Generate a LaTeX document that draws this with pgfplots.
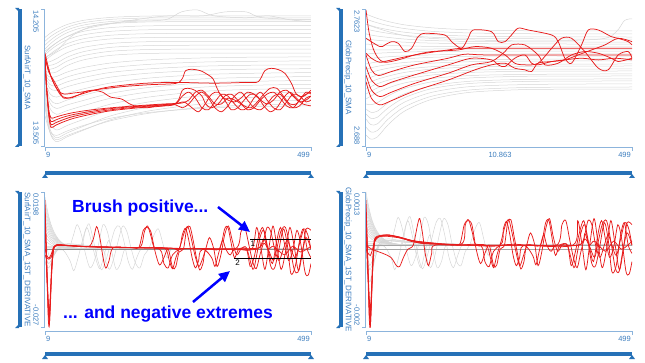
\documentclass[border=0pt]{standalone}
\usepackage{fontspec}
\setmainfont{Liberation Sans}
\usepackage{pgfplots}
\pgfplotsset{compat=1.18}
\usetikzlibrary{arrows.meta}
\definecolor{barblue}{RGB}{38,113,183}
\definecolor{lblue}{RGB}{60,125,190}
\definecolor{axblue}{RGB}{140,180,220}
\definecolor{myred}{RGB}{232,28,28}
\newcommand\lbl{\fontsize{7.5}{9}\selectfont}
\newcommand\ttl{\fontsize{8}{9}\selectfont}
\tikzset{gl/.style={color=black!16, line width=0.5pt, smooth},
         rl/.style={color=myred, line width=0.75pt, smooth}}
\pgfplotsset{panel/.style={scale only axis, width=266pt, hide axis, xmin=9, xmax=499, anchor=south west}}
% #1 x0, #2 y0, #3 y1, #4 top label, #5 bottom label, #6 title, #7 x-axis line y, #8 x label y, #9 bar y
\newcommand\panelframe[9]{%
 \fill[barblue] ({#1-27},#2) rectangle ({#1-23},#3);
 \fill[barblue] ({#1-30},{#2-1}) -- ({#1-26},{#2-1}) -- ({#1-26},{#2+3}) -- cycle;
 \fill[barblue] ({#1-30},{#3+1}) -- ({#1-26},{#3+1}) -- ({#1-26},{#3-3}) -- cycle;
 \draw[axblue, line width=0.6pt] ({#1-4},#2) -- ({#1-1},#2) -- ({#1-1},#3) -- ({#1-4},#3);
 \node[lblue, rotate=-90, anchor=west, inner sep=0pt, font=\lbl] at ({#1-9},{#2+1}) {#4};
 \node[lblue, rotate=-90, anchor=east, inner sep=0pt, font=\lbl] at ({#1-9},{#3-1}) {#5};
 \node[lblue, rotate=-90, inner sep=0pt, font=\ttl] at ({#1-18},{(#2+#3)/2}) {#6};
 \draw[axblue, line width=0.6pt] (#1,{#7+4}) -- (#1,#7) -- ({#1+266},#7) -- ({#1+266},{#7+4});
 \node[lblue, anchor=west, inner sep=0pt, font=\lbl] at ({#1+1},#8) {9};
 \node[lblue, anchor=east, inner sep=0pt, font=\lbl] at ({#1+265},#8) {499};
 \fill[barblue] (#1,#9) rectangle ({#1+266},{#9+4});
 \fill[barblue] ({#1-3},{#9+7}) -- ({#1+3},{#9+7}) -- (#1,{#9+3}) -- cycle;
 \fill[barblue] ({#1+263},{#9+7}) -- ({#1+269},{#9+7}) -- ({#1+266},{#9+3}) -- cycle;
}
\begin{document}
\begin{tikzpicture}
\begin{scope}[x=1pt,y=-1pt]
\path (0,0) rectangle (645,363);
\panelframe{45}{9}{146}{14.205}{13.505}{SurfAirT\_10\_SMA}{147.5}{155}{171}
\panelframe{366}{9}{146}{2.7623}{2.688}{GlobPrecip\_10\_SMA}{147.5}{155}{171}
\panelframe{45}{192}{327}{0.0198}{-0.027}{SurfAirT\_10\_SMA\_1ST\_DERIVATIVE}{331}{339}{352}
\panelframe{366}{192}{327}{0.0013}{-0.002}{GlobPrecip\_10\_SMA\_1ST\_DERIVATIVE}{331}{339}{352}
\node[lblue, inner sep=0pt, font=\lbl] at (500,155) {10.863};
\end{scope}

%================ Panel 1: SurfAirT_10_SMA
\begin{axis}[panel, height=137pt, at={(45pt,-146pt)}, ymin=13.505, ymax=14.205]
\addplot[gl] coordinates {(9,14.06)(18,14.080)(30,14.101)(50,14.126)(80,14.147)(130,14.162)(200,14.169)(300,14.17)(400,14.17)(499,14.17)};
\addplot[gl] coordinates {(9,14.04)(18,14.062)(30,14.084)(50,14.112)(80,14.135)(130,14.152)(200,14.159)(300,14.16)(400,14.16)(499,14.16)};
\addplot[gl] coordinates {(9,14.02)(18,14.043)(30,14.068)(50,14.098)(80,14.123)(130,14.141)(200,14.149)(300,14.15)(400,14.15)(499,14.15)};
\addplot[gl] coordinates {(9,14.00)(18,14.025)(30,14.052)(50,14.084)(80,14.111)(130,14.130)(200,14.139)(300,14.14)(400,14.14)(499,14.14)};
\addplot[gl] coordinates {(9,13.98)(18,14.005)(30,14.032)(50,14.064)(80,14.091)(130,14.110)(200,14.119)(300,14.12)(400,14.12)(499,14.12)};
\addplot[gl] coordinates {(9,13.97)(18,13.993)(30,14.018)(50,14.048)(80,14.073)(130,14.091)(200,14.099)(300,14.10)(400,14.10)(499,14.10)};
\addplot[gl] coordinates {(9,13.95)(18,13.973)(30,13.998)(50,14.028)(80,14.053)(130,14.071)(200,14.079)(300,14.08)(400,14.08)(499,14.08)};
\addplot[gl] coordinates {(9,13.94)(18,13.962)(30,13.984)(50,14.012)(80,14.035)(130,14.052)(200,14.059)(300,14.06)(400,14.06)(499,14.06)};
\addplot[gl] coordinates {(9,13.93)(18,13.936)(30,13.951)(50,13.982)(80,14.009)(130,14.029)(200,14.038)(300,14.04)(400,14.04)(499,14.04)};
\addplot[gl] coordinates {(9,13.92)(18,13.917)(30,13.927)(50,13.959)(80,13.987)(130,14.009)(200,14.018)(300,14.02)(400,14.02)(499,14.02)};
\addplot[gl] coordinates {(9,13.90)(18,13.897)(30,13.907)(50,13.939)(80,13.967)(130,13.989)(200,13.998)(300,14.00)(400,14.00)(499,14.00)};
\addplot[gl] coordinates {(9,13.89)(18,13.878)(30,13.883)(50,13.916)(80,13.945)(130,13.968)(200,13.978)(300,13.98)(400,13.98)(499,13.98)};
\addplot[gl] coordinates {(9,13.88)(18,13.857)(30,13.860)(50,13.883)(80,13.906)(130,13.929)(200,13.945)(300,13.955)(400,13.959)(499,13.96)};
\addplot[gl] coordinates {(9,13.87)(18,13.838)(30,13.836)(50,13.858)(80,13.880)(130,13.905)(200,13.922)(300,13.934)(400,13.938)(499,13.94)};
\addplot[gl] coordinates {(9,13.86)(18,13.819)(30,13.812)(50,13.833)(80,13.855)(130,13.881)(200,13.899)(300,13.913)(400,13.918)(499,13.92)};
\addplot[gl] coordinates {(9,13.85)(18,13.799)(30,13.789)(50,13.808)(80,13.830)(130,13.857)(200,13.877)(300,13.892)(400,13.898)(499,13.90)};
\addplot[gl] coordinates {(9,13.84)(18,13.772)(30,13.755)(50,13.774)(80,13.797)(130,13.827)(200,13.852)(300,13.870)(400,13.877)(499,13.88)};
\addplot[gl] coordinates {(9,13.83)(18,13.745)(30,13.721)(50,13.740)(80,13.764)(130,13.798)(200,13.826)(300,13.848)(400,13.856)(499,13.86)};
\addplot[gl] coordinates {(9,13.82)(18,13.726)(30,13.697)(50,13.715)(80,13.738)(130,13.774)(200,13.804)(300,13.827)(400,13.836)(499,13.84)};
\addplot[gl] coordinates {(9,13.80)(18,13.699)(30,13.667)(50,13.686)(80,13.711)(130,13.749)(200,13.781)(300,13.806)(400,13.816)(499,13.82)};
\addplot[gl] coordinates {(9,13.78)(18,13.664)(30,13.627)(50,13.648)(80,13.676)(130,13.719)(200,13.755)(300,13.784)(400,13.795)(499,13.80)};
\addplot[gl] coordinates {(9,13.76)(18,13.629)(30,13.587)(50,13.610)(80,13.641)(130,13.689)(200,13.730)(300,13.762)(400,13.775)(499,13.78)};
\addplot[gl] coordinates {(9,13.74)(18,13.594)(30,13.547)(50,13.572)(80,13.606)(130,13.659)(200,13.704)(300,13.740)(400,13.754)(499,13.76)};
\addplot[gl] coordinates {(9,13.72)(18,13.574)(30,13.527)(50,13.552)(80,13.586)(130,13.639)(200,13.684)(300,13.720)(400,13.734)(499,13.74)};
\addplot[gl] coordinates {(9,13.70)(18,13.577)(30,13.537)(50,13.559)(80,13.589)(130,13.634)(200,13.672)(300,13.703)(400,13.715)(499,13.72)};
\addplot[gl] coordinates {(9,13.66)(18,13.579)(30,13.559)(50,13.582)(80,13.610)(130,13.647)(200,13.676)(300,13.698)(400,13.706)(499,13.71)};
\addplot[gl] coordinates {(9,13.96)(30,13.99)(60,14.07)(100,14.12)(160,14.14)(230,14.15)(260,14.19)(290,14.20)(320,14.17)(380,14.16)(420,14.17)(460,14.15)(499,14.14)};
\addplot[gl] coordinates {(9,13.99)(40,14.05)(80,14.10)(130,14.13)(200,14.16)(240,14.17)(300,14.17)(340,14.19)(380,14.19)(410,14.16)(499,14.15)};
% red
\addplot[rl] coordinates {(9,13.96)(12,13.80)(16,13.66)(20,13.60)(28,13.61)(40,13.625)(60,13.645)(90,13.665)(130,13.685)(180,13.70)(230,13.712)(250,13.72)(262,13.76)(274,13.78)(286,13.75)(298,13.70)(310,13.69)(322,13.73)(334,13.77)(346,13.76)(358,13.72)(370,13.69)(382,13.70)(394,13.75)(406,13.78)(418,13.74)(430,13.70)(442,13.69)(454,13.73)(466,13.77)(478,13.76)(490,13.73)(499,13.74)};
\addplot[rl] coordinates {(9,13.95)(12,13.80)(16,13.67)(20,13.615)(28,13.623)(40,13.637)(60,13.655)(90,13.673)(130,13.69)(180,13.704)(230,13.715)(250,13.715)(262,13.70)(274,13.72)(286,13.76)(298,13.78)(310,13.75)(322,13.70)(334,13.68)(346,13.71)(358,13.76)(370,13.78)(382,13.74)(394,13.70)(406,13.69)(418,13.72)(430,13.76)(442,13.77)(454,13.73)(466,13.70)(478,13.71)(490,13.75)(499,13.76)};
\addplot[rl] coordinates {(9,13.94)(12,13.80)(16,13.68)(20,13.63)(28,13.637)(40,13.65)(60,13.665)(90,13.68)(130,13.696)(180,13.708)(230,13.717)(250,13.72)(265,13.73)(280,13.70)(292,13.68)(304,13.72)(316,13.77)(328,13.78)(340,13.74)(352,13.69)(364,13.70)(376,13.74)(388,13.77)(400,13.76)(412,13.71)(424,13.68)(436,13.70)(448,13.75)(460,13.78)(472,13.75)(484,13.72)(499,13.71)};
\addplot[rl] coordinates {(9,13.93)(12,13.80)(16,13.69)(20,13.648)(28,13.652)(40,13.662)(60,13.675)(90,13.688)(130,13.70)(180,13.711)(230,13.72)(250,13.722)(262,13.725)(274,13.74)(286,13.78)(298,13.79)(310,13.76)(322,13.72)(334,13.72)(346,13.75)(358,13.74)(370,13.72)(382,13.69)(394,13.70)(406,13.74)(418,13.77)(430,13.78)(442,13.75)(454,13.71)(466,13.70)(478,13.74)(490,13.78)(499,13.77)};
\addplot[rl] coordinates {(9,13.97)(15,13.89)(25,13.84)(35,13.79)(43,13.75)(55,13.752)(70,13.765)(100,13.79)(130,13.808)(190,13.825)(250,13.83)(320,13.826)(380,13.83)(402,13.834)(414,13.89)(426,13.902)(439,13.895)(451,13.876)(463,13.825)(472,13.77)(484,13.757)(499,13.79)};
\addplot[rl] coordinates {(9,13.95)(20,13.86)(30,13.80)(40,13.76)(55,13.75)(70,13.765)(85,13.785)(100,13.79)(115,13.78)(130,13.755)(150,13.745)(165,13.72)(180,13.705)(195,13.70)(210,13.705)(230,13.71)(245,13.715)(255,13.74)(262,13.79)(272,13.80)(285,13.79)(298,13.76)(305,13.72)(315,13.70)(328,13.72)(340,13.76)(352,13.77)(364,13.74)(376,13.71)(388,13.70)(400,13.73)(412,13.77)(424,13.80)(436,13.80)(448,13.76)(460,13.72)(472,13.72)(484,13.76)(499,13.78)};
\addplot[rl] coordinates {(9,13.98)(14,13.92)(20,13.86)(28,13.81)(36,13.78)(46,13.77)(60,13.775)(80,13.782)(110,13.795)(150,13.808)(200,13.818)(250,13.825)(262,13.85)(268,13.89)(280,13.897)(295,13.89)(305,13.876)(318,13.85)(326,13.80)(334,13.76)(346,13.74)(358,13.73)(370,13.75)(382,13.78)(394,13.77)(406,13.74)(418,13.72)(430,13.74)(442,13.78)(454,13.79)(466,13.76)(478,13.73)(490,13.74)(499,13.76)};
\end{axis}

%================ Panel 2: GlobPrecip_10_SMA
\begin{axis}[panel, height=137pt, at={(366pt,-146pt)}, ymin=2.688, ymax=2.7623]
\addplot[gl] coordinates {(9,2.7596)(18,2.7585)(30,2.7572)(50,2.7555)(80,2.7537)(130,2.7521)(200,2.7510)(300,2.7505)(400,2.7504)(499,2.7504)};
\addplot[gl] coordinates {(9,2.7569)(18,2.7559)(30,2.7548)(50,2.7533)(80,2.7517)(130,2.7502)(200,2.7493)(300,2.7489)(400,2.7488)(499,2.7488)};
\addplot[gl] coordinates {(9,2.7542)(18,2.7533)(30,2.7523)(50,2.7511)(80,2.7497)(130,2.7484)(200,2.7476)(300,2.7472)(400,2.7472)(499,2.7471)};
\addplot[gl] coordinates {(9,2.7515)(18,2.7508)(30,2.7501)(50,2.7491)(80,2.7480)(130,2.7470)(200,2.7464)(300,2.7462)(400,2.7460)(499,2.7460)};
\addplot[gl] coordinates {(9,2.7488)(18,2.7482)(30,2.7476)(50,2.7469)(80,2.7460)(130,2.7452)(200,2.7447)(300,2.7445)(400,2.7444)(499,2.7444)};
\addplot[gl] coordinates {(9,2.7460)(18,2.7457)(30,2.7453)(50,2.7449)(80,2.7443)(130,2.7438)(200,2.7435)(300,2.7434)(400,2.7433)(499,2.7433)};
\addplot[gl] coordinates {(9,2.7433)(18,2.7431)(30,2.7429)(50,2.7426)(80,2.7423)(130,2.7420)(200,2.7418)(300,2.7417)(400,2.7417)(499,2.7417)};
\addplot[gl] coordinates {(9,2.7406)(18,2.7404)(30,2.7401)(50,2.7401)(80,2.7404)(130,2.7406)(200,2.7406)(300,2.7406)(400,2.7406)(499,2.7406)};
\addplot[gl] coordinates {(9,2.7379)(18,2.7381)(30,2.7383)(50,2.7386)(80,2.7389)(130,2.7393)(200,2.7394)(300,2.7395)(400,2.7395)(499,2.7395)};
\addplot[gl] coordinates {(9,2.7352)(18,2.7355)(30,2.7359)(50,2.7364)(80,2.7369)(130,2.7374)(200,2.7377)(300,2.7379)(400,2.7379)(499,2.7379)};
\addplot[gl] coordinates {(9,2.7325)(18,2.7330)(30,2.7336)(50,2.7344)(80,2.7352)(130,2.7361)(200,2.7366)(300,2.7368)(400,2.7368)(499,2.7368)};
\addplot[gl] coordinates {(9,2.7298)(18,2.7304)(30,2.7312)(50,2.7322)(80,2.7333)(130,2.7342)(200,2.7348)(300,2.7351)(400,2.7352)(499,2.7352)};
\addplot[gl] coordinates {(9,2.7271)(18,2.7279)(30,2.7289)(50,2.7302)(80,2.7316)(130,2.7329)(200,2.7337)(300,2.7340)(400,2.7341)(499,2.7341)};
\addplot[gl] coordinates {(9,2.7244)(18,2.7253)(30,2.7265)(50,2.7279)(80,2.7296)(130,2.7310)(200,2.7320)(300,2.7324)(400,2.7324)(499,2.7325)};
\addplot[gl] coordinates {(9,2.7217)(18,2.7228)(30,2.7242)(50,2.7259)(80,2.7279)(130,2.7297)(200,2.7308)(300,2.7312)(400,2.7313)(499,2.7314)};
\addplot[gl] coordinates {(9,2.7189)(18,2.7202)(30,2.7218)(50,2.7237)(80,2.7259)(130,2.7278)(200,2.7291)(300,2.7296)(400,2.7297)(499,2.7298)};
\addplot[gl] coordinates {(9,2.7162)(18,2.7177)(30,2.7195)(50,2.7217)(80,2.7242)(130,2.7265)(200,2.7279)(300,2.7285)(400,2.7286)(499,2.7287)};
\addplot[gl] coordinates {(9,2.7135)(18,2.7151)(30,2.7170)(50,2.7195)(80,2.7222)(130,2.7246)(200,2.7262)(300,2.7268)(400,2.7270)(499,2.7271)};
\addplot[gl] coordinates {(9,2.7108)(18,2.7104)(30,2.7115)(50,2.7152)(80,2.7192)(130,2.7228)(200,2.7249)(300,2.7258)(400,2.7259)(499,2.7260)};
\addplot[gl] coordinates {(9,2.7081)(18,2.7063)(30,2.7069)(50,2.7115)(80,2.7163)(130,2.7206)(200,2.7231)(300,2.7241)(400,2.7243)(499,2.7244)};
\addplot[gl] coordinates {(9,2.7054)(18,2.7030)(30,2.7036)(50,2.7087)(80,2.7142)(130,2.7191)(200,2.7219)(300,2.7230)(400,2.7232)(499,2.7233)};
\addplot[gl] coordinates {(9,2.7027)(18,2.6996)(30,2.7000)(50,2.7057)(80,2.7118)(130,2.7171)(200,2.7202)(300,2.7213)(400,2.7216)(499,2.7217)};
\addplot[gl] coordinates {(9,2.6983)(18,2.6956)(30,2.6964)(50,2.7026)(80,2.7092)(130,2.7150)(200,2.7184)(300,2.7197)(400,2.7199)(499,2.7200)};
\addplot[gl] coordinates {(9,2.6940)(18,2.6917)(30,2.6929)(50,2.6996)(80,2.7069)(130,2.7133)(200,2.7171)(300,2.7186)(400,2.7188)(499,2.7189)};
\addplot[gl] coordinates {(9,2.7540)(100,2.7470)(300,2.7450)(440,2.7460)(470,2.7500)(485,2.7560)(499,2.7570)};
% red
\addplot[rl] coordinates {(9,2.7464)(34.6,2.7419)(43.8,2.7428)(56,2.7446)(68.4,2.7437)(80.7,2.7392)(93,2.7410)(105,2.7473)(117.5,2.7491)(154,2.7482)(166.6,2.7446)(185,2.7410)(197,2.7464)(206.6,2.7509)(240,2.7500)(252.6,2.7446)(265,2.7446)(277,2.7482)(289.4,2.7519)(308,2.7509)(351,2.7482)(363,2.7446)(375.4,2.7356)(387.7,2.7329)(406,2.7428)(418.4,2.7509)(437,2.7509)(461,2.7473)(473.6,2.7464)(492,2.7446)(499,2.7428)};
\addplot[rl] coordinates {(9,2.7618)(14.4,2.7500)(22,2.7410)(31.6,2.7356)(43.8,2.7334)(68.4,2.7347)(99,2.7374)(130,2.7392)(179,2.7401)(209.6,2.7419)(240,2.7410)(265,2.7374)(283,2.7329)(301.7,2.7320)(326,2.7329)(351,2.7410)(369,2.7464)(387.7,2.7464)(412,2.7392)(437,2.7302)(455,2.7293)(473.6,2.7374)(492,2.7392)(499,2.7356)};
\addplot[rl] coordinates {(9,2.7383)(19,2.7356)(34.6,2.7334)(56,2.7347)(99,2.7374)(160.5,2.7401)(191,2.7410)(300,2.7410)(400,2.7410)(499,2.7410)};
\addplot[rl] coordinates {(9,2.7374)(19,2.7293)(31.6,2.7262)(56,2.7284)(99,2.7320)(160.5,2.7356)(191,2.7378)(228,2.7374)(350,2.7374)(499,2.7374)};
\addplot[rl] coordinates {(9,2.7311)(19,2.7238)(34.6,2.7202)(56,2.7226)(99,2.7266)(160.5,2.7320)(203.5,2.7356)(240,2.7347)(252.6,2.7320)(265,2.7311)(283,2.7356)(301.7,2.7374)(314,2.7329)(326,2.7320)(351,2.7338)(375.4,2.7347)(406,2.7356)(437,2.7347)(467,2.7356)(499,2.7347)};
\addplot[rl] coordinates {(9,2.7266)(19,2.7184)(34.6,2.7148)(56,2.7172)(99,2.7220)(160.5,2.7275)(203.5,2.7320)(240,2.7338)(265,2.7392)(277,2.7428)(301.7,2.7428)(326,2.7374)(338.6,2.7320)(363,2.7329)(387.7,2.7374)(412,2.7392)(437,2.7383)(461,2.7356)(473.6,2.7338)(499,2.7356)};
\addplot[rl] coordinates {(9,2.7229)(19,2.7139)(34.6,2.7103)(56,2.7126)(99,2.7179)(160.5,2.7238)(209.6,2.7293)(240,2.7320)(265,2.7329)(283,2.7302)(301.7,2.7293)(314,2.7284)(326,2.7329)(351,2.7338)(375.4,2.7347)(400,2.7374)(424.5,2.7401)(449,2.7428)(473.6,2.7464)(499,2.7446)};
\end{axis}

%================ Panel 3: SurfAirT derivative
\begin{axis}[panel, height=135pt, at={(45pt,-327pt)}, ymin=-0.027, ymax=0.0198]
\addplot[gl] coordinates {(9,0.018)(12,0.0148)(16,0.0113)(20,0.0086)(26,0.0058)(34,0.0034)(45,0.0016)(60,0.0006)(80,0.0002)(110,0)(150,0)(499,0)};
\addplot[gl] coordinates {(9,0.0165)(12,0.01353)(16,0.0104)(20,0.00792)(26,0.00528)(34,0.00314)(45,0.00149)(60,0.00054)(80,0.00015)(110,0)(150,0)(499,0)};
\addplot[gl] coordinates {(9,0.015)(12,0.0123)(16,0.0095)(20,0.0072)(26,0.0048)(34,0.0029)(45,0.0014)(60,0.0005)(80,0.0001)(110,0)(150,0)(499,0)};
\addplot[gl] coordinates {(9,0.0135)(12,0.01107)(16,0.0085)(20,0.00648)(26,0.00432)(34,0.00257)(45,0.00122)(60,0.00045)(80,0.00012)(110,0)(150,0)(499,0)};
\addplot[gl] coordinates {(9,0.012)(12,0.0098)(16,0.0076)(20,0.0058)(26,0.0038)(34,0.0023)(45,0.0011)(60,0.0004)(80,0.0001)(110,0)(150,0)(499,0)};
\addplot[gl] coordinates {(9,0.0105)(12,0.00861)(16,0.00662)(20,0.00504)(26,0.00336)(34,0.002)(45,0.00095)(60,0.00035)(80,0.00009)(110,0)(150,0)(499,0)};
\addplot[gl] coordinates {(9,0.009)(12,0.0074)(16,0.0057)(20,0.0043)(26,0.0029)(34,0.0017)(45,0.0008)(60,0.0003)(80,0.0001)(110,0)(150,0)(499,0)};
\addplot[gl] coordinates {(9,0.0075)(12,0.00615)(16,0.00473)(20,0.0036)(26,0.0024)(34,0.00143)(45,0.00068)(60,0.00025)(80,0.00007)(110,0)(150,0)(499,0)};
\addplot[gl] coordinates {(9,0.006)(12,0.0049)(16,0.0038)(20,0.0029)(26,0.0019)(34,0.0011)(45,0.0005)(60,0.0002)(80,0.0001)(110,0)(150,0)(499,0)};
\addplot[gl] coordinates {(9,0.0045)(12,0.00369)(16,0.00284)(20,0.00216)(26,0.00144)(34,0.00086)(45,0.00041)(60,0.00015)(80,0.00004)(110,0)(150,0)(499,0)};
\addplot[gl] coordinates {(9,0.003)(12,0.0025)(16,0.0019)(20,0.0014)(26,0.001)(34,0.0006)(45,0.0003)(60,0.0001)(80,0)(110,0)(150,0)(499,0)};
\addplot[gl] coordinates {(9,-0.002)(12,-0.004)(16,-0.005)(20,-0.004)(26,-0.002)(34,0.0)(45,0.0012)(60,0.0015)(80,0.0012)(110,0.0008)(150,0.0005)(200,0.0003)(300,0.0001)(499,0)};
\addplot[gl] coordinates {(9,-0.004)(12,-0.006)(16,-0.0065)(20,-0.005)(26,-0.002)(34,0.0005)(45,0.0018)(60,0.0018)(80,0.0014)(110,0.0009)(150,0.0005)(200,0.0003)(300,0.0001)(499,0)};
\addplot[gl] coordinates {(9,0.0)(12,-0.002)(16,-0.003)(20,-0.0025)(26,-0.001)(34,0.0008)(45,0.0015)(60,0.0013)(80,0.001)(110,0.0007)(150,0.0004)(200,0.0002)(300,0.0001)(499,0)};
\addplot[gl] coordinates {(9,0.005)(12,0.001)(16,-0.002)(20,-0.003)(26,-0.0015)(34,0.0005)(45,0.0012)(60,0.0012)(80,0.0009)(110,0.0006)(150,0.0004)(200,0.0002)(300,0)(499,0)};
\addplot[gl] coordinates {(9,0.0)(50,0.0)(60,0.004)(68,0.0085)(76,0.005)(84,-0.002)(92,-0.0065)(100,-0.004)(108,0.002)(116,0.0085)(124,0.006)(132,-0.001)(140,-0.007)(148,-0.005)(156,0.0)(170,0.0)(499,0.0)};
\addplot[gl] coordinates {(9,0.001)(60,0.0005)(75,0.0)(83,0.006)(90,0.0088)(97,0.004)(105,-0.003)(113,-0.0072)(121,-0.004)(130,0.002)(138,0.007)(146,0.008)(154,0.003)(162,-0.004)(170,-0.007)(178,-0.003)(186,0.0)(200,0.0)(499,0.0)};
\addplot[gl] coordinates {(9,0.0)(110,0.0)(120,-0.004)(128,-0.007)(136,-0.003)(144,0.003)(152,0.008)(160,0.006)(168,0.0)(176,-0.005)(184,-0.0065)(192,-0.002)(200,0.0)(210,0.005)(218,0.007)(226,0.002)(234,-0.003)(242,0.0)(260,0.0)(499,0.0)};
\addplot[gl] coordinates {(9,0.0005)(40,0.0)(55,-0.004)(62,-0.0075)(70,-0.003)(78,0.003)(86,0.0075)(94,0.003)(102,-0.003)(110,-0.0068)(118,-0.002)(126,0.003)(134,0.0)(160,0.0)(499,0.0)};
\addplot[color=black!45, line width=0.8pt] coordinates {(9,0)(499,0)};
% red
\addplot[rl] coordinates {(9,0.017)(12,-0.004)(15,-0.021)(17,-0.026)(19,-0.019)(21,-0.009)(24,-0.001)(28,0.0012)(35,0.0015)(50,0.0013)(70,0.001)(90,0.0009)(98,0.0035)(104,0.0078)(110,0.004)(116,-0.003)(121,-0.0066)(127,-0.004)(134,0.0004)(160,0.0006)(185,0.0008)(192,0.006)(198,0.008)(205,0.004)(212,0.0003)(240,0.0003)(270,0.0002)(300,0.0002)(330,0.0001)(360,0.0001)(390,0.0)(399,0.0075)(407,0.0)(414,-0.007)(421,0.0)(429,0.008)(436,0.001)(444,-0.007)(452,-0.001)(460,0.0075)(468,0.001)(476,-0.0075)(484,0.0)(490,0.007)(499,0.0065)};
\addplot[rl] coordinates {(9,0.012)(12,-0.006)(15,-0.024)(17,-0.0265)(19,-0.017)(21,-0.007)(24,0.0)(28,0.001)(35,0.0013)(50,0.0012)(70,0.001)(90,0.0009)(130,0.0007)(170,0.0005)(182,0.0006)(190,0.0065)(197,0.0075)(204,0.006)(212,-0.001)(220,-0.0055)(228,-0.003)(236,0.0)(244,-0.0065)(250,-0.006)(256,-0.001)(264,0.0)(270,0.007)(276,0.0078)(282,0.003)(288,-0.003)(294,-0.0072)(300,-0.005)(306,0.0)(330,0.0)(340,0.007)(346,0.0075)(352,0.002)(358,-0.003)(366,0.0)(380,0.0)(387,-0.006)(394,-0.003)(402,0.004)(410,0.0075)(417,0.002)(425,-0.006)(432,-0.0065)(440,0.0)(448,0.007)(455,0.002)(462,-0.0085)(470,-0.006)(478,0.003)(485,0.007)(492,0.0)(499,-0.003)};
\addplot[rl] coordinates {(9,0.009)(12,-0.008)(15,-0.018)(17,-0.022)(19,-0.015)(22,-0.005)(25,0.0005)(30,0.0012)(40,0.0014)(55,0.0012)(70,0.001)(100,0.0008)(150,0.0006)(200,0.0004)(230,0.0003)(238,-0.004)(244,-0.0068)(250,-0.003)(258,0.001)(266,0.006)(272,0.0078)(278,0.004)(285,-0.002)(292,-0.006)(298,-0.004)(305,0.0)(312,0.004)(320,0.0)(326,-0.006)(333,-0.002)(340,0.005)(347,0.008)(354,0.003)(362,-0.002)(370,0.0)(380,0.0005)(392,-0.007)(398,-0.003)(405,0.004)(412,0.0065)(420,0.0)(428,-0.005)(436,0.003)(443,0.0075)(450,0.002)(458,-0.004)(466,0.0)(473,0.0065)(480,0.002)(488,-0.008)(494,-0.009)(499,-0.005)};
\addplot[rl] coordinates {(9,-0.002)(12,-0.003)(16,-0.0035)(20,-0.003)(23,-0.001)(27,0.001)(32,0.0015)(45,0.0014)(70,0.001)(100,0.0008)(150,0.0006)(200,0.0005)(240,0.0004)(256,0.0)(262,0.005)(268,0.0072)(274,0.003)(280,-0.003)(286,-0.0065)(292,-0.004)(300,0.0)(360,0.0002)(370,0.006)(377,0.0075)(384,0.002)(391,-0.004)(398,-0.0068)(405,-0.002)(412,0.002)(420,0.0)(430,-0.004)(437,0.001)(444,0.0065)(452,0.0075)(460,0.001)(468,-0.007)(475,-0.008)(482,-0.002)(490,0.004)(499,0.0)};
\addplot[rl] coordinates {(9,0.0)(13,-0.0025)(17,-0.003)(21,-0.0015)(25,0.0008)(30,0.0015)(45,0.0013)(70,0.001)(100,0.0007)(150,0.0005)(180,0.0004)(220,0.0)(228,-0.005)(236,-0.0065)(244,-0.002)(260,0.0)(300,0.0)(316,-0.003)(322,-0.006)(328,-0.002)(336,0.003)(342,0.0)(350,-0.002)(360,0.0)(400,0.0003)(410,0.002)(418,0.0075)(425,0.006)(432,0.0)(440,-0.004)(448,0.0)(455,0.003)(462,0.0)(470,-0.003)(478,0.002)(486,0.007)(493,0.005)(499,0.0)};
\addplot[rl] coordinates {(9,0.014)(12,-0.003)(15,-0.019)(17,-0.024)(19,-0.017)(22,-0.006)(25,0.0)(30,0.0013)(50,0.0012)(100,0.0008)(150,0.0006)(200,0.0004)(260,0.0002)(300,0.0)(350,0.0)(400,0.0)(412,0.0035)(420,0.0)(430,0.001)(450,-0.002)(465,0.001)(480,-0.001)(499,0.001)};
% brush lines
\addplot[black, line width=1pt] coordinates {(387,0.0035)(499,0.0035)};
\addplot[black, line width=1pt] coordinates {(357,-0.0031)(499,-0.0031)};
\node[font=\ttl, inner sep=0pt] at (axis cs:392,0.0018) {1};
\node[font=\ttl, inner sep=0pt] at (axis cs:364,-0.0048) {2};
\end{axis}

%================ Panel 4: GlobPrecip derivative
\begin{axis}[panel, height=135pt, at={(366pt,-327pt)}, ymin=-0.002, ymax=0.0013]
\addplot[gl] coordinates {(9,0.0013)(12,0.00107)(16,0.00082)(20,0.00062)(26,0.00042)(34,0.00025)(45,0.00012)(60,0.00004)(80,0.00001)(110,0)(150,0)(499,0)};
\addplot[gl] coordinates {(9,0.0012)(12,0.00098)(16,0.00076)(20,0.00058)(26,0.00038)(34,0.00023)(45,0.00011)(60,0.00004)(80,0.00001)(110,0)(150,0)(499,0)};
\addplot[gl] coordinates {(9,0.0011)(12,0.0009)(16,0.00069)(20,0.00053)(26,0.00035)(34,0.00021)(45,0.0001)(60,0.00004)(80,0.00001)(110,0)(150,0)(499,0)};
\addplot[gl] coordinates {(9,0.001)(12,0.00082)(16,0.00063)(20,0.00048)(26,0.00032)(34,0.00019)(45,0.00009)(60,0.00003)(80,0.00001)(110,0)(150,0)(499,0)};
\addplot[gl] coordinates {(9,0.0009)(12,0.00074)(16,0.00057)(20,0.00043)(26,0.00029)(34,0.00017)(45,0.00008)(60,0.00003)(80,0.00001)(110,0)(150,0)(499,0)};
\addplot[gl] coordinates {(9,0.0008)(12,0.00066)(16,0.0005)(20,0.00038)(26,0.00026)(34,0.00015)(45,0.00007)(60,0.00003)(80,0.00001)(110,0)(150,0)(499,0)};
\addplot[gl] coordinates {(9,0.0007)(12,0.00057)(16,0.00044)(20,0.00034)(26,0.00022)(34,0.00013)(45,0.00006)(60,0.00002)(80,0.00001)(110,0)(150,0)(499,0)};
\addplot[gl] coordinates {(9,0.0006)(12,0.00049)(16,0.00038)(20,0.00029)(26,0.00019)(34,0.00011)(45,0.00005)(60,0.00002)(80,0.00001)(110,0)(150,0)(499,0)};
\addplot[gl] coordinates {(9,0.0005)(12,0.00041)(16,0.00032)(20,0.00024)(26,0.00016)(34,0.0001)(45,0.00005)(60,0.00002)(80,0)(110,0)(150,0)(499,0)};
\addplot[gl] coordinates {(9,0.0004)(12,0.00033)(16,0.00025)(20,0.00019)(26,0.00013)(34,0.00008)(45,0.00004)(60,0.00001)(80,0)(110,0)(150,0)(499,0)};
\addplot[gl] coordinates {(9,0.0003)(12,0.00025)(16,0.00019)(20,0.00014)(26,0.0001)(34,0.00006)(45,0.00003)(60,0.00001)(80,0)(110,0)(150,0)(499,0)};
\addplot[gl] coordinates {(9,-0.0002)(12,-0.0004)(16,-0.0006)(20,-0.0005)(26,-0.0003)(34,0.0)(45,0.0001)(60,0.00012)(80,0.0001)(110,0.00006)(150,0.00004)(200,0.00002)(300,0)(499,0)};
\addplot[gl] coordinates {(9,-0.0004)(12,-0.0007)(16,-0.0009)(20,-0.0007)(26,-0.0003)(34,0.00005)(45,0.00015)(60,0.00014)(80,0.0001)(110,0.00007)(150,0.00004)(200,0.00002)(300,0)(499,0)};
\addplot[gl] coordinates {(9,0.0)(12,-0.0003)(16,-0.0005)(20,-0.0004)(26,-0.0002)(34,0.00005)(45,0.00012)(60,0.0001)(80,0.00008)(110,0.00005)(150,0.00003)(200,0.00001)(300,0)(499,0)};
\addplot[gl] coordinates {(9,0.0004)(12,0.0001)(16,-0.0002)(20,-0.0003)(26,-0.00015)(34,0.00004)(45,0.0001)(60,0.0001)(80,0.00007)(110,0.00005)(150,0.00003)(200,0.00001)(300,0)(499,0)};
\addplot[gl] coordinates {(9,0.0)(50,0.0)(60,0.0003)(68,0.00068)(76,0.0004)(84,-0.00015)(92,-0.0005)(100,-0.0003)(108,0.00015)(116,0.00068)(124,0.0005)(132,-0.0001)(140,-0.00055)(148,-0.0004)(156,0.0)(170,0.0)(499,0.0)};
\addplot[gl] coordinates {(9,0.0001)(60,0.00004)(75,0.0)(83,0.0005)(90,0.0007)(97,0.0003)(105,-0.00025)(113,-0.00058)(121,-0.0003)(130,0.00015)(138,0.00055)(146,0.00065)(154,0.00025)(162,-0.0003)(170,-0.00055)(178,-0.00025)(186,0.0)(200,0.0)(499,0.0)};
\addplot[gl] coordinates {(9,0.0)(110,0.0)(120,-0.0003)(128,-0.00055)(136,-0.00025)(144,0.00025)(152,0.00065)(160,0.0005)(168,0.0)(176,-0.0004)(184,-0.0005)(192,-0.00015)(200,0.0)(210,0.0004)(218,0.00055)(226,0.00015)(234,-0.00025)(242,0.0)(260,0.0)(499,0.0)};
\addplot[gl] coordinates {(9,0.00004)(40,0.0)(55,-0.0003)(62,-0.0006)(70,-0.00025)(78,0.00025)(86,0.0006)(94,0.00025)(102,-0.00025)(110,-0.00055)(118,-0.00015)(126,0.00025)(134,0.0)(160,0.0)(499,0.0)};
\addplot[color=black!35, line width=1.2pt] coordinates {(9,0)(499,0)};
\addplot[color=black!35, line width=1.2pt] coordinates {(9,-0.0001)(499,-0.0001)};
% red
\addplot[rl] coordinates {(9,0.0009)(12,-0.0003)(15,-0.0016)(17,-0.00195)(19,-0.0014)(21,-0.0007)(24,0.0)(28,0.00015)(35,0.00022)(50,0.00025)(70,0.0002)(90,0.00012)(110,0.00005)(130,0.00003)(185,0.00003)(192,0.0005)(198,0.00062)(205,0.0003)(212,0.0)(240,0.0)(300,0.0)(390,0.0)(399,0.0006)(407,0.0)(414,-0.0006)(421,0.0)(429,0.00065)(436,0.0001)(444,-0.00055)(452,-0.0001)(460,0.0006)(468,0.0)(476,-0.0006)(484,0.0)(490,0.00055)(499,0.0005)};
\addplot[rl] coordinates {(9,0.0006)(12,-0.0005)(15,-0.0018)(17,-0.002)(19,-0.0013)(21,-0.0005)(24,0.0001)(30,0.00022)(45,0.00025)(70,0.0002)(90,0.0001)(110,0.00005)(130,0.00003)(170,0.00002)(182,0.00003)(190,0.0005)(197,0.0006)(204,0.0005)(212,-0.0001)(220,-0.00045)(228,-0.0002)(236,0.0)(244,-0.0005)(250,-0.00048)(256,-0.0001)(264,0.0)(270,0.00055)(276,0.00062)(282,0.0002)(288,-0.0002)(294,-0.00058)(300,-0.0004)(306,0.0)(330,0.0)(340,0.00055)(346,0.0006)(352,0.00015)(358,-0.00025)(366,0.0)(380,0.0)(387,-0.0005)(394,-0.0002)(402,0.0003)(410,0.0006)(417,0.00015)(425,-0.00045)(432,-0.0005)(440,0.0)(448,0.00055)(455,0.00015)(462,-0.00065)(470,-0.0005)(478,0.00025)(485,0.00055)(492,0.0)(499,-0.0002)};
\addplot[rl] coordinates {(9,0.0003)(12,-0.0006)(15,-0.0013)(17,-0.0016)(19,-0.0011)(22,-0.0003)(25,0.0001)(32,0.0002)(50,0.00023)(75,0.00018)(100,0.0001)(150,0.00003)(200,0.0)(230,0.0)(238,-0.0003)(244,-0.00055)(250,-0.00025)(258,0.0001)(266,0.0005)(272,0.00062)(278,0.0003)(285,-0.00015)(292,-0.0005)(298,-0.0003)(305,0.0)(312,0.0003)(320,0.0)(326,-0.0005)(333,-0.00015)(340,0.0004)(347,0.00065)(354,0.0002)(362,-0.00015)(370,0.0)(380,0.0)(392,-0.00055)(398,-0.0002)(405,0.0003)(412,0.0005)(420,0.0)(428,-0.0004)(436,0.00025)(443,0.0006)(450,0.00015)(458,-0.0003)(466,0.0)(473,0.0005)(480,0.00015)(488,-0.00065)(494,-0.0007)(499,-0.0004)};
\addplot[rl] coordinates {(9,0.0)(20,-0.0001)(40,-0.0002)(55,-0.0003)(65,-0.0005)(71,-0.00052)(78,-0.0003)(86,-0.0001)(96,0.0)(104,0.0005)(108,0.00065)(113,0.0003)(118,-0.0002)(124,-0.0005)(130,-0.0002)(136,0.0)(200,0.0)(256,0.0)(262,0.0004)(268,0.00058)(274,0.00025)(280,-0.00025)(286,-0.0005)(292,-0.0003)(300,0.0)(360,0.0)(370,0.0005)(377,0.0006)(384,0.00015)(391,-0.0003)(398,-0.00055)(405,-0.00015)(412,0.00015)(420,0.0)(430,-0.0003)(437,0.0001)(444,0.0005)(452,0.0006)(460,0.0001)(468,-0.00055)(475,-0.00065)(482,-0.00015)(490,0.0003)(499,0.0)};
\addplot[rl] coordinates {(9,-0.0001)(13,-0.0002)(17,-0.00025)(21,-0.0001)(25,0.0001)(30,0.0002)(45,0.00022)(70,0.00018)(100,0.0001)(150,0.00003)(180,0.0)(220,0.0)(228,-0.0004)(236,-0.00052)(244,-0.00015)(260,0.0)(300,0.0)(316,-0.00025)(322,-0.00048)(328,-0.00015)(336,0.00025)(342,0.0)(350,-0.00015)(360,0.0)(400,0.0)(410,0.00015)(418,0.0006)(425,0.0005)(432,0.0)(440,-0.0003)(448,0.0)(455,0.00025)(462,0.0)(470,-0.00025)(478,0.00015)(486,0.00055)(493,0.0004)(499,0.0)};
\addplot[rl] coordinates {(9,0.0011)(12,-0.0002)(15,-0.0014)(17,-0.0018)(19,-0.0013)(22,-0.0004)(25,0.0001)(30,0.0002)(50,0.00025)(80,0.00015)(120,0.00005)(200,0.0)(300,0.0)(400,0.0)(412,0.00028)(420,0.0)(430,0.0001)(450,-0.00015)(465,0.0001)(480,-0.0001)(499,0.0001)};
\end{axis}

%================ annotations
\begin{scope}[x=1pt,y=-1pt]
\node[blue, anchor=base west, inner sep=0pt, font=\fontsize{17.5}{20}\selectfont\bfseries] at (72,213) {Brush positive...};
\node[blue, anchor=base west, inner sep=0pt, font=\fontsize{17.5}{20}\selectfont\bfseries] at (63,318) {... and negative extremes};
\draw[blue, line width=2.5pt, -{Triangle[length=11pt,width=10pt]}] (218,207) -- (250,232);
\draw[blue, line width=2.5pt, -{Triangle[length=11pt,width=10pt]}] (193,302) -- (230,271);
\end{scope}
\end{tikzpicture}
\end{document}
